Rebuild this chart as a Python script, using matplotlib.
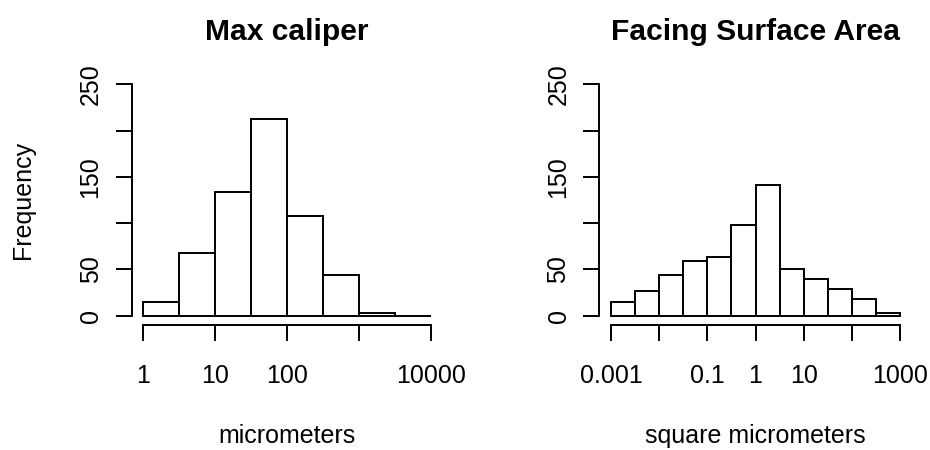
import numpy as np
import matplotlib
matplotlib.use('Agg')
import matplotlib.pyplot as plt

plt.rcParams['font.family'] = ['Liberation Sans', 'DejaVu Sans']

# histogram data (bin edges in log10 units, counts per bin)
caliper_edges = [0.0, 0.5, 1.0, 1.5, 2.0, 2.5, 3.0, 3.5, 4.0]
caliper_counts = [15, 68, 134, 213, 108, 44, 3, 0]
caliper_ticks = [0, 1, 2, 3, 4]
caliper_labels = ['1', '10', '100', '', '10000']

area_edges = [-3.0, -2.5, -2.0, -1.5, -1.0, -0.5, 0.0, 0.5, 1.0, 1.5, 2.0, 2.5, 3.0]
area_counts = [15, 27, 44, 59, 63, 98, 141, 50, 40, 29, 18, 3]
area_ticks = [-3, -2, -1, 0, 1, 2, 3]
area_labels = ['0.001', '', '0.1', '1', '10', '', '1000']

y_ticks = [0, 50, 100, 150, 200, 250]
y_labels = ['0', '50', '', '150', '', '250']

LW = 1.4
BASE = 18


def r_hist(ax, edges, counts, ticks, labels, title, xlabel):
    edges = np.asarray(edges)
    ax.bar(edges[:-1], counts, width=np.diff(edges), align='edge',
           facecolor='white', edgecolor='black', linewidth=LW)
    pad = 0.04 * (edges[-1] - edges[0])
    ax.set_xlim(edges[0] - pad, edges[-1] + pad)
    ax.set_ylim(-10, 260)
    for s in ['top', 'right']:
        ax.spines[s].set_visible(False)
    ax.spines['bottom'].set_bounds(ticks[0], ticks[-1])
    ax.spines['left'].set_bounds(0, 250)
    for s in ['bottom', 'left']:
        ax.spines[s].set_linewidth(LW)
    ax.set_xticks(ticks)
    ax.set_xticklabels(labels)
    ax.set_yticks(y_ticks)
    ax.set_yticklabels(y_labels, rotation=90, va='center')
    ax.tick_params(direction='out', length=11.3, width=LW, labelsize=BASE)
    ax.tick_params(axis='x', pad=16.5)
    ax.tick_params(axis='y', pad=9.5)
    ax.set_title(title, fontsize=BASE * 1.2, fontweight='bold', pad=25)
    ax.set_xlabel(xlabel, fontsize=BASE, va='baseline')
    # x label baseline sits 118 px below the axes bottom (axes are 250 px tall)
    ax.xaxis.set_label_coords(0.5, -118 / 250)
    return ax


fig = plt.figure(figsize=(9.3, 4.5), dpi=100)
ax1 = fig.add_axes([131.5 / 930, 125 / 450, 311 / 930, 250 / 450])
ax2 = fig.add_axes([599.4 / 930, 125 / 450, 312.2 / 930, 250 / 450])

r_hist(ax1, caliper_edges, caliper_counts, caliper_ticks, caliper_labels,
       'Max caliper', 'micrometers')
r_hist(ax2, area_edges, area_counts, area_ticks, area_labels,
       'Facing Surface Area', 'square micrometers')

ax1.set_ylabel('Frequency', fontsize=BASE, va='bottom')
ax1.yaxis.set_label_coords(35 / 930, 1 - 200 / 450, transform=fig.transFigure)

fig.savefig('out.png', dpi=100)
